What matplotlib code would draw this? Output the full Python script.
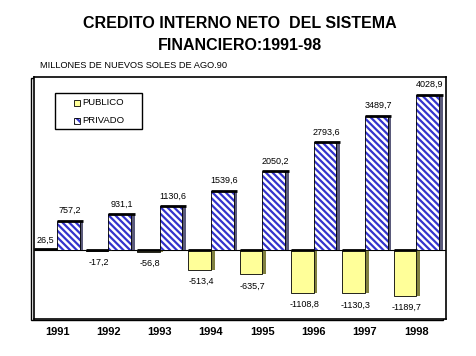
import matplotlib
matplotlib.use("Agg")
import matplotlib.pyplot as plt
import matplotlib.patches as mpatches
import matplotlib.transforms as mtransforms
import numpy as np

years = ["1991", "1992", "1993", "1994", "1995", "1996", "1997", "1998"]
publico = [26.5, -17.2, -56.8, -513.4, -635.7, -1108.8, -1130.3, -1189.7]
privado = [757.2, 931.1, 1130.6, 1539.6, 2050.2, 2793.6, 3489.7, 4028.9]

plt.rcParams["font.family"] = ["Liberation Sans", "DejaVu Sans"]
plt.rcParams["hatch.linewidth"] = 1.6

fig = plt.figure(figsize=(4.77, 3.56), dpi=100)
ax = fig.add_axes([0.0713, 0.104, 0.864, 0.680])

x = np.arange(len(years))
w = 0.44
d = 0.07
blue = "#3333cc"

# 3d side panels
ax.bar(x, publico, width=d, align="edge", color="#808040", zorder=2)
ax.bar(x + w, privado, width=d, align="edge", color="#5a5a7a", zorder=2)

# bars
ax.bar(x - w, publico, width=w, align="edge", color="#ffff99",
       edgecolor="black", linewidth=0.6, zorder=3)
ax.bar(x, privado, width=w, align="edge", facecolor="white",
       edgecolor=blue, hatch="\\\\\\\\\\", linewidth=0, zorder=3)
ax.bar(x, privado, width=w, align="edge", facecolor="none",
       edgecolor="black", linewidth=0.6, zorder=4)

# thick top edges
ax.hlines([max(v, 0) for v in publico], x - w, x, color="black", lw=2, zorder=5)
ax.hlines(privado, x, x + w + d, color="black", lw=2, zorder=5)
ax.axhline(0, color="black", lw=0.8, zorder=1)

def fmt(v):
    return ("%.1f" % v).replace(".", ",")

for xi, v in zip(x, publico):
    if v >= 0:
        ax.annotate(fmt(v), (xi - w / 2, v), xytext=(0, 3), textcoords="offset points",
                    ha="center", va="bottom", fontsize=6.5)
    else:
        ax.annotate(fmt(v), (xi - w / 2 + d / 2, v), xytext=(0, -5), textcoords="offset points",
                    ha="center", va="top", fontsize=6.5)
for xi, v in zip(x, privado):
    ax.annotate(fmt(v), (xi + w / 2 + d / 2, v), xytext=(0, 4), textcoords="offset points",
                ha="center", va="bottom", fontsize=6.5)

ax.set_xlim(-0.448, 7.58)
ax.set_ylim(-1792, 4494)
ax.set_xticks(x)
ax.set_xticklabels(years, fontsize=8, fontweight="bold")
ax.tick_params(axis="x", length=0, pad=6)
ax.set_yticks([])
for s in ax.spines.values():
    s.set_linewidth(1.2)

# frame shadow
shadow = mpatches.Rectangle((0, 0), 1, 1, facecolor="white", edgecolor="black", lw=1.0,
                            transform=ax.transAxes + mtransforms.ScaledTranslation(-0.03, -0.01, fig.dpi_scale_trans),
                            zorder=-1)
fig.add_artist(shadow)

# legend box
ax.add_patch(mpatches.Rectangle((0.051, 0.785), 0.211, 0.149, transform=ax.transAxes,
                                facecolor="white", edgecolor="black", lw=1.0, zorder=10))
ax.add_patch(mpatches.Rectangle((0.097, 0.881), 0.0146, 0.0248, transform=ax.transAxes,
                                facecolor="#ffff99", edgecolor="black", lw=0.6, zorder=11))
ax.add_patch(mpatches.Rectangle((0.097, 0.806), 0.0146, 0.0248, transform=ax.transAxes,
                                facecolor="white", edgecolor=blue, hatch="\\\\\\\\", lw=0, zorder=11))
ax.add_patch(mpatches.Rectangle((0.097, 0.806), 0.0146, 0.0248, transform=ax.transAxes,
                                facecolor="none", edgecolor="black", lw=0.6, zorder=12))
ax.text(0.118, 0.893, "PUBLICO", transform=ax.transAxes, fontsize=6.8, va="center", ha="left", zorder=12)
ax.text(0.118, 0.818, "PRIVADO", transform=ax.transAxes, fontsize=6.8, va="center", ha="left", zorder=12)

fig.text(0.503, 1 - 23.7 / 356, "CREDITO INTERNO NETO  DEL SISTEMA", ha="center", va="center",
         fontsize=11.5, fontweight="bold")
fig.text(0.503, 1 - 45.5 / 356, "FINANCIERO:1991-98", ha="center", va="center",
         fontsize=11.5, fontweight="bold")
fig.text(40 / 477, 1 - 66 / 356, "MILLONES DE NUEVOS SOLES DE AGO.90", ha="left", va="center", fontsize=6.7)

fig.savefig("out.png", dpi=100)
